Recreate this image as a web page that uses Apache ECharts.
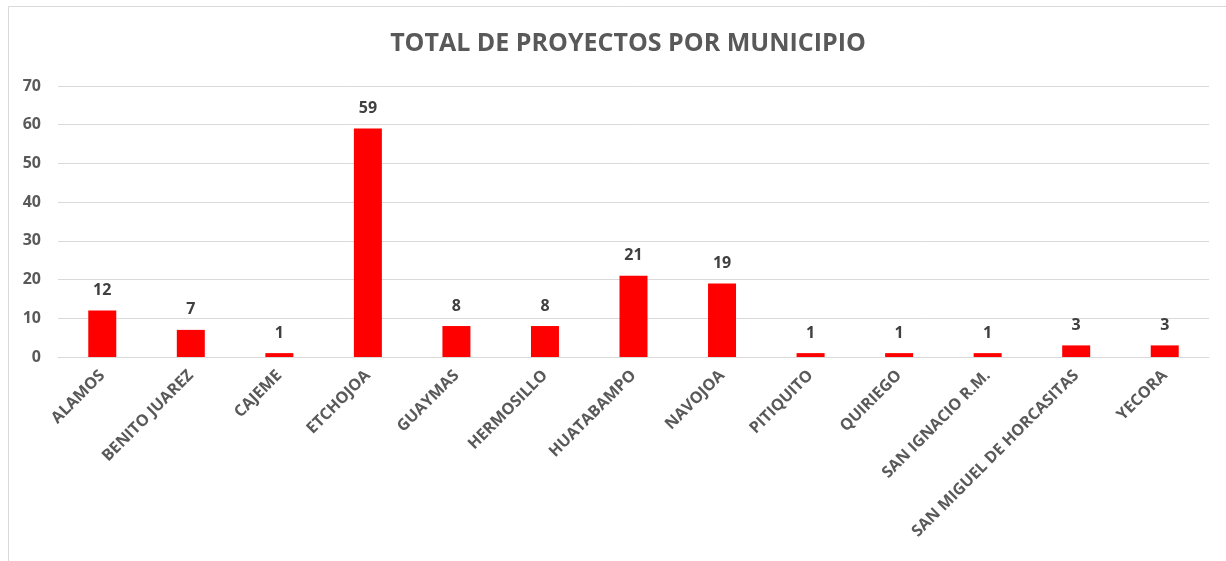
<!DOCTYPE html>
<html>
<head>
<meta charset="utf-8">
<script src="https://cdn.jsdelivr.net/npm/echarts@6/dist/echarts.min.js"></script>
<style>
html,body{margin:0;padding:0;background:#fff;}
#chart{width:1226px;height:561px;}
</style>
</head>
<body>
<div id="chart"></div>
<script>
var municipios = ['ALAMOS','BENITO JUAREZ','CAJEME','ETCHOJOA','GUAYMAS','HERMOSILLO','HUATABAMPO','NAVOJOA','PITIQUITO','QUIRIEGO','SAN IGNACIO R.M.','SAN MIGUEL DE HORCASITAS','YECORA'];
var proyectos = [12, 7, 1, 59, 8, 8, 21, 19, 1, 1, 1, 3, 3];

var chart = echarts.init(document.getElementById('chart'));
var option = {
    animation: false,
    textStyle: { fontFamily: 'Open Sans' },
    graphic: [{
        type: 'rect',
        shape: { x: 8.5, y: 6.5, width: 1240, height: 580 },
        style: { fill: 'none', stroke: '#d9d9d9', lineWidth: 1 }
    }],
    title: {
        text: 'TOTAL DE PROYECTOS POR MUNICIPIO',
        left: 623,
        textAlign: 'center',
        top: 26,
        textStyle: { fontSize: 25, fontWeight: 'bold', color: '#595959' }
    },
    grid: { left: 58, right: 17, top: 86, bottom: 204, containLabel: false },
    xAxis: {
        type: 'category',
        data: municipios,
        axisLine: { lineStyle: { color: '#d9d9d9', width: 1 } },
        axisTick: { show: false },
        axisLabel: {
            interval: 0,
            rotate: 45,
            margin: 16,
            fontSize: 16,
            fontWeight: 'bold',
            color: '#595959'
        }
    },
    yAxis: {
        type: 'value',
        min: 0,
        max: 70,
        interval: 10,
        axisLine: { show: false },
        axisTick: { show: false },
        splitLine: { lineStyle: { color: '#d9d9d9', width: 1 } },
        axisLabel: { fontSize: 16, fontWeight: 'bold', color: '#595959', margin: 17 }
    },
    series: [{
        type: 'bar',
        data: proyectos,
        barWidth: 28,
        itemStyle: { color: '#ff0000' },
        label: {
            show: true,
            position: 'top',
            distance: 12,
            fontSize: 16,
            fontWeight: 'bold',
            color: '#404040'
        }
    }]
};
chart.setOption(option);
</script>
</body>
</html>
